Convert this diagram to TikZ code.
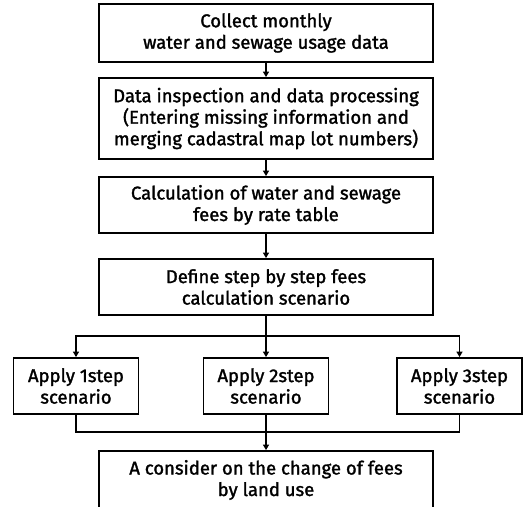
\documentclass[tikz,border=0pt]{standalone}
\usepackage{fontspec}
\setmainfont{Fira Sans}[FakeBold=1.6,AutoFakeBold=1.6]
\usetikzlibrary{arrows.meta}
\begin{document}
\begin{tikzpicture}[x=1pt,y=-1pt,
  box/.style={draw, line width=1.8pt, align=center, inner sep=0pt,
    font=\fontsize{18.5}{21.5}\selectfont\bfseries},
  wide/.style={box, minimum width=334pt},
  small/.style={box, minimum width=125pt, minimum height=56pt},
  link/.style={line width=1.6pt},
  arrow/.style={link, -{Triangle[length=5.5pt,width=6pt]}}]
\useasboundingbox (0,0) rectangle (526,506);

% main column
\node[wide, minimum height=58pt] (collect) at (266,33)
  {Collect monthly\\water and sewage usage data};
\node[wide, minimum height=81pt] (inspect) at (266,118.5)
  {Data inspection and data processing\\(Entering missing information and\\merging cadastral map lot numbers)};
\node[wide, minimum height=56pt] (calc) at (266,205)
  {Calculation of water and sewage\\fees by rate table};
\node[wide, minimum height=56pt] (define) at (266,287)
  {Define step by step fees\\calculation scenario};

% scenario boxes
\node[small] (s1) at (76,386) {Apply 1step\\scenario};
\node[small] (s2) at (266,386) {Apply 2step\\scenario};
\node[small] (s3) at (459.5,386) {Apply 3step\\scenario};

% result box (runs past the lower edge)
\node[wide, minimum height=58pt] (result) at (266,480)
  {A consider on the change of fees\\by land use};

% branching and merging points
\coordinate (split) at (266,336);
\coordinate (merge) at (266,432);

\draw[arrow] (collect) -- (inspect);
\draw[arrow] (inspect) -- (calc);
\draw[arrow] (calc) -- (define);

\draw[link] (define) -- (split);
\draw[arrow] (split) -| (s1.north);
\draw[arrow] (split) -| (s3.north);
\draw[arrow] (split) -- (s2.north);

\draw[link] (s1.south) |- (merge);
\draw[link] (s3.south) |- (merge);
\draw[link] (s2.south) -- (merge);
\draw[arrow] (merge) -- (result);
\end{tikzpicture}
\end{document}
